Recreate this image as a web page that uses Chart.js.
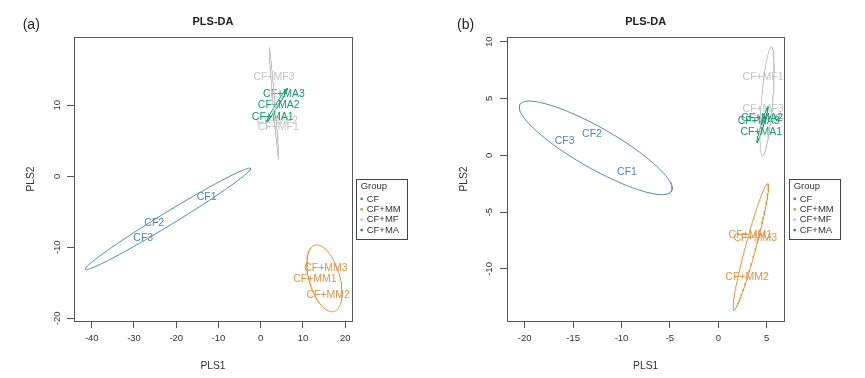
<!DOCTYPE html>
<html><head><meta charset="utf-8">
<script src="https://cdn.jsdelivr.net/npm/chart.js@4.4.1/dist/chart.umd.min.js"></script>
<style>
html,body{margin:0;padding:0;background:#fff;}
#wrap{position:relative;width:865px;height:378px;overflow:hidden;background:#fff;}
canvas{position:absolute;top:0;}
</style></head><body>
<div id="wrap">
<canvas id="ca" width="432" height="378" style="left:0px"></canvas>
<canvas id="cb" width="433" height="378" style="left:432px"></canvas>
</div>
<script>
// ---------- shared ----------
const groups = ['CF', 'CF+MM', 'CF+MF', 'CF+MA'];
const groupColors = ['#4c87b8', '#dd9443', '#c4c4c4', '#17966f'];
const sampleLabels = ['CF1','CF2','CF3','CF+MM1','CF+MM2','CF+MM3','CF+MF1','CF+MF2','CF+MF3','CF+MA1','CF+MA2','CF+MA3'];
const sampleGroup  = [0,0,0,1,1,1,2,2,2,3,3,3];

// ---------- panel (a) ----------
const aPLS1 = [-12.8, -25.2, -27.8, 12.83, 15.97, 15.43, 4.15, 3.9, 3.13, 2.82, 4.24, 5.5];
const aPLS2 = [-2.87, -6.53, -8.65, -14.42, -16.76, -13.0, 6.94, 7.75, 14.03, 8.35, 10.0, 11.63];
// confidence ellipses per group: centre and two conjugate semi-diameters (PLS units)
const aEllCx = [-21.95, 15.08, 3.13, 3.84];
const aEllCy = [-5.99, -14.37, 10.25, 10.04];
const aEllUx = [19.57, 2.25, -1.11, 2.44];
const aEllUy = [7.11, -4.67, 7.86, 2.35];
const aEllVx = [0.80, 3.50, 0.24, 0.30];
const aEllVy = [-0.78, 0.60, 0.01, -0.11];
const aXTicks = [-40, -30, -20, -10, 0, 10, 20];
const aYTicks = [-20, -10, 0, 10];
const aXRange = [-44.2, 21.6];
const aYRange = [-20.38, 19.62];

// ---------- panel (b) ----------
const bPLS1 = [-9.43, -13.05, -15.87, 3.31, 2.97, 3.82, 4.62, 5.3, 4.62, 4.44, 4.51, 4.17];
const bPLS2 = [-1.5, 1.88, 1.23, -7.01, -10.68, -7.3, 6.9, 3.15, 4.08, 2.02, 3.26, 2.97];
const bEllCx = [-12.66, 3.36, 5.03, 4.56];
const bEllCy = [0.65, -8.06, 4.73, 2.70];
const bEllUx = [7.83, 1.75, 0.46, 0.57];
const bEllUy = [-3.81, 5.57, 4.81, 1.58];
const bEllVx = [-1.04, 0.53, 0.57, 0.12];
const bEllVy = [-1.55, -0.12, -0.04, -0.03];
const bXTicks = [-20, -15, -10, -5, 0, 5];
const bYTicks = [-10, -5, 0, 5, 10];
const bXRange = [-21.83, 6.82];
const bYRange = [-14.58, 10.41];

const FONT = '"Liberation Sans", Arial, Helvetica, sans-serif';

function ellipseOutline(cx, cy, ux, uy, vx, vy) {
  const pts = [];
  const n = 160;
  for (let k = 0; k <= n; k++) {
    const t = 2 * Math.PI * k / n;
    pts.push({x: cx + ux * Math.cos(t) + vx * Math.sin(t), y: cy + uy * Math.cos(t) + vy * Math.sin(t)});
  }
  return pts;
}

function buildDatasets(px, py, ecx, ecy, eux, euy, evx, evy) {
  const ds = [];
  groups.forEach((g, gi) => {
    const idx = sampleGroup.map((v, i) => v === gi ? i : -1).filter(i => i >= 0);
    ds.push({
      label: g,
      data: idx.map(i => ({x: px[i], y: py[i]})),
      labelTexts: idx.map(i => sampleLabels[i]),
      labelColor: groupColors[gi],
      pointRadius: 0, showLine: false
    });
  });
  groups.forEach((g, gi) => {
    ds.push({
      label: g + ' ellipse',
      data: ellipseOutline(ecx[gi], ecy[gi], eux[gi], euy[gi], evx[gi], evy[gi]),
      showLine: true, pointRadius: 0, borderColor: groupColors[gi], borderWidth: 1,
      fill: false, tension: 0
    });
  });
  return ds;
}

const decor = {
  id: 'decor',
  beforeDatasetsDraw(chart) {
    const ctx = chart.ctx, a = chart.chartArea;
    ctx.save();
    ctx.beginPath(); ctx.rect(a.left, a.top, a.right - a.left, a.bottom - a.top); ctx.clip();
    ctx.font = '10.5px ' + FONT; ctx.textAlign = 'center'; ctx.textBaseline = 'middle';
    chart.data.datasets.forEach((ds, i) => {
      if (!ds.labelTexts) return;
      const meta = chart.getDatasetMeta(i);
      ctx.fillStyle = ds.labelColor;
      meta.data.forEach((pt, j) => ctx.fillText(ds.labelTexts[j], pt.x, pt.y));
    });
    ctx.restore();
  },
  afterDraw(chart) {
    const o = chart.options.plugins.decor;
    const ctx = chart.ctx, a = chart.chartArea;
    const cx = (a.left + a.right) / 2, cy = (a.top + a.bottom) / 2;
    ctx.save();
    ctx.strokeStyle = '#555'; ctx.lineWidth = 1;
    ctx.strokeRect(Math.round(a.left) + 0.5, Math.round(a.top) + 0.5, Math.round(a.right - a.left), Math.round(a.bottom - a.top));
    ctx.fillStyle = '#222'; ctx.textAlign = 'center'; ctx.textBaseline = 'middle';
    ctx.font = 'bold 11px ' + FONT;
    ctx.fillText('PLS-DA', cx, 21.7);
    ctx.font = '14px ' + FONT; ctx.textAlign = 'left';
    ctx.fillText(o.letter, o.letterX, 25.5);
    ctx.font = '10.3px ' + FONT; ctx.textAlign = 'center'; ctx.fillStyle = '#333';
    ctx.fillText('PLS1', cx, 366);
    ctx.save(); ctx.translate(o.ytitleX, cy); ctx.rotate(-Math.PI / 2); ctx.fillText('PLS2', 0, 0); ctx.restore();
    const ys = chart.scales.y;
    ctx.font = '9.5px ' + FONT;
    ys.ticks.forEach(t => {
      const y = ys.getPixelForValue(t.value);
      ctx.save(); ctx.translate(57.5, y); ctx.rotate(-Math.PI / 2); ctx.fillText(String(t.value), 0, 0); ctx.restore();
    });
    const lx = a.right + o.legendDx, ly = 178.7;
    ctx.strokeStyle = '#444';
    ctx.strokeRect(Math.round(lx) + 0.5, Math.round(ly) + 0.5, 51, 60);
    ctx.textAlign = 'left'; ctx.fillStyle = '#333';
    ctx.fillText('Group', lx + 5, ly + 7.5);
    groups.forEach((g, gi) => {
      const yy = ly + 20.2 + gi * 10.4;
      ctx.fillStyle = groupColors[gi];
      ctx.beginPath(); ctx.arc(lx + 6, yy, 1.4, 0, Math.PI * 2); ctx.fill();
      ctx.fillStyle = '#333';
      ctx.fillText(g, lx + 11, yy);
    });
    ctx.restore();
  }
};

function makeChart(id, opt) {
  return new Chart(document.getElementById(id), {
    type: 'scatter',
    data: {datasets: opt.datasets},
    options: {
      responsive: false, animation: false, events: [],
      layout: {padding: {top: 37, left: 0, right: opt.padRight, bottom: 0}},
      plugins: {
        legend: {display: false}, tooltip: {enabled: false}, title: {display: false},
        decor: {letter: opt.letter, letterX: opt.letterX, ytitleX: opt.ytitleX, legendDx: opt.legendDx}
      },
      scales: {
        x: {
          type: 'linear', min: opt.xRange[0], max: opt.xRange[1],
          afterBuildTicks: s => { s.ticks = opt.xTicks.map(v => ({value: v})); },
          afterFit: s => { s.height = 57; },
          border: {display: false},
          grid: {drawOnChartArea: false, drawTicks: true, tickLength: 7, color: '#555', lineWidth: 1},
          ticks: {font: {family: FONT, size: 9.5}, color: '#333', padding: 5, maxRotation: 0, autoSkip: false}
        },
        y: {
          type: 'linear', min: opt.yRange[0], max: opt.yRange[1],
          afterBuildTicks: s => { s.ticks = opt.yTicks.map(v => ({value: v})); },
          afterFit: s => { s.width = opt.yWidth; },
          border: {display: false},
          grid: {drawOnChartArea: false, drawTicks: true, tickLength: 7, color: '#555', lineWidth: 1},
          ticks: {display: false}
        }
      }
    },
    plugins: [decor]
  });
}

makeChart('ca', {
  datasets: buildDatasets(aPLS1, aPLS2, aEllCx, aEllCy, aEllUx, aEllUy, aEllVx, aEllVy),
  xRange: aXRange, yRange: aYRange, xTicks: aXTicks, yTicks: aYTicks,
  padRight: 80, yWidth: 74, letter: '(a)', letterX: 22.7, ytitleX: 31.5, legendDx: 3.7
});
makeChart('cb', {
  datasets: buildDatasets(bPLS1, bPLS2, bEllCx, bEllCy, bEllUx, bEllUy, bEllVx, bEllVy),
  xRange: bXRange, yRange: bYRange, xTicks: bXTicks, yTicks: bYTicks,
  padRight: 80.7, yWidth: 75, letter: '(b)', letterX: 25, ytitleX: 32, legendDx: 4.4
});
</script>
</body></html>
